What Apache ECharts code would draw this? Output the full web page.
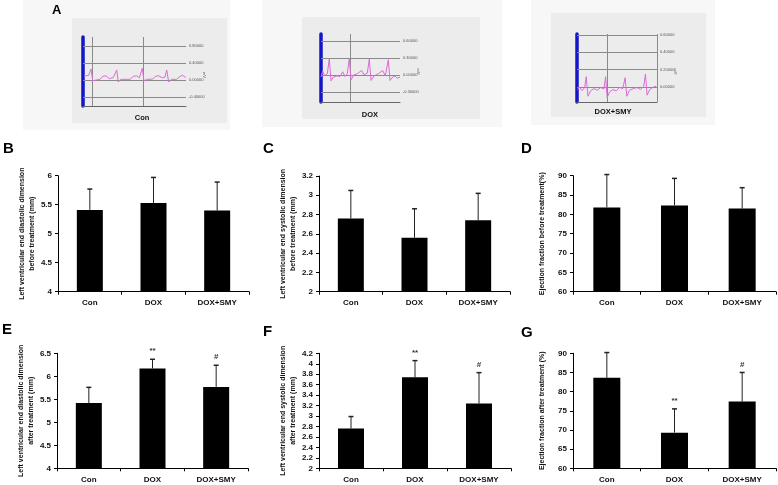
<!DOCTYPE html>
<html><head><meta charset="utf-8">
<script src="https://cdn.jsdelivr.net/npm/echarts@6/dist/echarts.min.js"></script>
<style>html,body{margin:0;padding:0;background:#fff}#c{width:778px;height:485px}</style>
</head><body><div id="c"></div>
<script>
// ---------- data ----------
const categories = ['Con', 'DOX', 'DOX+SMY'];
// B: LVEDd before treatment
const bMean = [5.41, 5.53, 5.40];
const bSD   = [0.36, 0.44, 0.49];
// C: LVESd before treatment
const cMean = [2.76, 2.56, 2.74];
const cSD   = [0.29, 0.30, 0.28];
// D: EF before treatment
const dMean = [81.8, 82.3, 81.5];
const dSD   = [8.5, 7.0, 5.4];
// E: LVEDd after treatment
const eMean = [5.42, 6.17, 5.77];
const eSD   = [0.34, 0.20, 0.47];
// F: LVESd after treatment
const fMean = [2.76, 3.74, 3.24];
const fSD   = [0.23, 0.32, 0.59];
// G: EF after treatment
const gMean = [83.6, 69.3, 77.4];
const gSD   = [6.6, 6.2, 7.6];
const noSig = ['', '', ''];
const afterSig = ['', '**', '#'];

// ECG traces (time, mV)
const ecgCon = [[1,0.09],[3,0.125],[5.7,0.11],[8,0.26],[9.7,-0.016],[11.3,0.016],[17,0.016],[19.7,0.086],[23,0.10],[26.3,0.03],[30.3,0.06],[32,0.09],[33.7,0.235],[35.3,-0.047],[37.7,0.016],[47,0.016],[50.3,0.086],[53.7,0.10],[56.3,0.05],[57.7,0.07],[59.3,0.275],[61,-0.024],[63.7,0.016],[69.7,0.02],[72.3,0.086],[75.7,0.10],[79.3,0.05],[82,0.07],[83.7,0.235],[85.7,-0.047],[88.3,0.016],[93.7,0.016],[97,0.086],[99.7,0.11],[102.7,0.06]];
const ecgDox = [[0,-0.04],[1.7,0.065],[3.7,-0.02],[6.3,0.018],[8.3,0.29],[10,-0.106],[12.3,-0.04],[16.3,-0.02],[19,-0.03],[21.7,0.053],[24,-0.03],[26.3,0.018],[28.3,0.29],[30,-0.088],[33,0],[36.3,0.018],[40.7,0.076],[43,0],[46.3,0.03],[48.3,0.277],[50,-0.1],[53,-0.02],[57.3,0.018],[61.7,0.076],[64.3,-0.02],[67.3,0.265],[69,-0.1],[71.7,-0.04],[74,-0.02],[76.3,-0.06],[79,-0.04]];
const ecgSmy = [[0.3,-0.027],[2.7,-0.004],[5,-0.04],[7.7,-0.004],[9.3,0.12],[11,-0.104],[13.7,-0.042],[17,-0.015],[20.3,-0.035],[23.7,-0.004],[27,-0.02],[28.7,0.12],[30.3,-0.12],[32.7,-0.054],[36,-0.027],[39.3,-0.042],[42.7,-0.004],[46,-0.015],[48.3,0.108],[50,-0.104],[52.7,-0.035],[57,-0.015],[60.3,-0.004],[63.7,-0.027],[67,0.01],[68.7,0.15],[70.3,-0.092],[73,-0.027],[76,-0.004],[78.3,0.01],[80.3,-0.004]];
const conLines = [0.8, 0.4, 0, -0.4];
const doxLines = [0.6, 0.3, 0, -0.3];
const smyLines = [0.6, 0.4, 0.2, 0];

// ---------- build ----------
const FONT = 'Liberation Sans, Arial, sans-serif';
const panels = [
  {letter:'B', grid:{left:58, top:175.7, width:191, height:116}, min:4, max:6, interval:0.5, mean:bMean, sd:bSD, sig:noSig,
   name:'Left ventricular end diastolic dimension\nbefore treatment (mm)', gap:21, lx:3, ly:141},
  {letter:'C', grid:{left:319, top:176, width:191, height:115.7}, min:2, max:3.2, interval:0.2, mean:cMean, sd:cSD, sig:noSig,
   name:'Left ventricular end systolic dimension\nbefore treatment (mm)', gap:21, lx:263, ly:141},
  {letter:'D', grid:{left:573, top:175.7, width:203, height:116}, min:60, max:90, interval:5, mean:dMean, sd:dSD, sig:noSig,
   name:'Ejection fraction before treatment(%)', gap:26, lx:521, ly:141},
  {letter:'E', grid:{left:57, top:353.3, width:191, height:115}, min:4, max:6.5, interval:0.5, mean:eMean, sd:eSD, sig:afterSig,
   name:'Left ventricular end diastolic dimension\nafter treatment (mm)', gap:21, lx:2, ly:322},
  {letter:'F', grid:{left:319, top:353.3, width:192, height:115}, min:2, max:4.2, interval:0.2, mean:fMean, sd:fSD, sig:afterSig,
   name:'Left ventricular end systolic dimension\nafter treatment (mm)', gap:21, lx:263, ly:324},
  {letter:'G', grid:{left:573, top:353.3, width:203, height:115}, min:60, max:90, interval:5, mean:gMean, sd:gSD, sig:afterSig,
   name:'Ejection fraction after treatment (%)', gap:26, lx:521, ly:325}
];

const grids = [], xAxes = [], yAxes = [], series = [], graphics = [];

// ECG panels
const ecgs = [
  {grid:{left:83, top:37, width:103, height:69}, xmax:103, ymin:-0.61, ymax:1.01, data:ecgCon, lines:conLines, vlines:[9,60], label:'Con', lxy:[142,118],
   outer:[23,0,207,130], inner:[72,18,155,105]},
  {grid:{left:321, top:34, width:79, height:68}, xmax:79, ymin:-0.48, ymax:0.72, data:ecgDox, lines:doxLines, vlines:[29.7], label:'DOX', lxy:[370,115],
   outer:[262,0,240,127], inner:[302,17,178,102]},
  {grid:{left:577, top:34, width:80, height:68}, xmax:80.3, ymin:-0.17, ymax:0.61, data:ecgSmy, lines:smyLines, vlines:[30,80.3], label:'DOX+SMY', lxy:[613,112],
   outer:[531,0,184,125], inner:[551,13,155,104]}
];

ecgs.forEach((e) => {
  graphics.push({type:'rect', shape:{x:e.outer[0], y:e.outer[1], width:e.outer[2], height:e.outer[3]}, style:{fill:'#f7f7f7'}, z:-20});
  graphics.push({type:'rect', shape:{x:e.inner[0], y:e.inner[1], width:e.inner[2], height:e.inner[3]}, style:{fill:'#ececec'}, z:-19});
  graphics.push({type:'text', x:e.lxy[0], y:e.lxy[1], style:{text:e.label, font:'bold 7.5px ' + FONT, fill:'#111', align:'center', verticalAlign:'middle'}});
  graphics.push({type:'text', x:e.grid.left + e.grid.width + 18, y:e.grid.top + e.grid.height * 0.55, rotation:-Math.PI/2,
    style:{text:'mV', font:'4px ' + FONT, fill:'#555', align:'center', verticalAlign:'middle'}});
  const gi = grids.length;
  grids.push(e.grid);
  xAxes.push({type:'value', gridIndex:gi, min:0, max:e.xmax, axisLabel:{show:false}, axisTick:{show:false}, splitLine:{show:false},
    axisLine:{show:true, onZero:false, lineStyle:{color:'#666', width:1}}});
  yAxes.push({type:'value', gridIndex:gi, min:e.ymin, max:e.ymax, axisLabel:{show:false}, axisTick:{show:false}, splitLine:{show:false},
    offset:1.5, axisLine:{show:true, lineStyle:{color:'#1414c8', width:3.5}}});
  const ml = e.lines.map(v => ({yAxis:v, label:{show:true, position:'end', distance:3, formatter:v.toFixed(5), fontSize:4, color:'#555', fontFamily:FONT}}))
    .concat(e.vlines.map(v => ({xAxis:v, label:{show:false}})));
  series.push({type:'line', xAxisIndex:gi, yAxisIndex:gi, data:e.data, showSymbol:false, symbol:'none', silent:true,
    lineStyle:{color:'#dd6ad8', width:1}, z:5,
    markLine:{silent:true, symbol:'none', animation:false, lineStyle:{color:'#8a8a8a', type:'solid', width:1}, data:ml}});
});

graphics.push({type:'text', x:52, y:4, style:{text:'A', font:'bold 13px ' + FONT, fill:'#000'}});

panels.forEach((p) => {
  const gi = grids.length;
  grids.push(p.grid);
  graphics.push({type:'text', x:p.lx, y:p.ly, style:{text:p.letter, font:'bold 15px ' + FONT, fill:'#000'}});
  xAxes.push({type:'category', gridIndex:gi, data:categories,
    axisLine:{lineStyle:{color:'#000', width:1}}, axisTick:{show:true, length:3, lineStyle:{color:'#000'}},
    axisLabel:{color:'#111', fontSize:8, fontWeight:'bold', fontFamily:FONT, margin:7}});
  yAxes.push({type:'value', gridIndex:gi, min:p.min, max:p.max, interval:p.interval,
    name:p.name, nameLocation:'middle', nameGap:p.gap, nameRotate:90,
    nameTextStyle:{color:'#111', fontSize:7, fontWeight:'bold', fontFamily:FONT, lineHeight:10},
    axisLine:{show:true, lineStyle:{color:'#000', width:1}}, axisTick:{show:true, length:3, lineStyle:{color:'#000'}},
    splitLine:{show:false},
    axisLabel:{color:'#111', fontSize:8, fontWeight:'bold', fontFamily:FONT, margin:6}});
  series.push({type:'bar', xAxisIndex:gi, yAxisIndex:gi, data:p.mean, barWidth:p.grid.width > 195 ? 27 : 26,
    itemStyle:{color:'#000'}, silent:true, z:2});
  const sig = p.sig;
  series.push({type:'custom', xAxisIndex:gi, yAxisIndex:gi, silent:true, z:3,
    data:p.mean.map((m, i) => [i, m, m + p.sd[i]]),
    renderItem:function(params, api){
      const base = api.coord([api.value(0), api.value(1)]);
      const top = api.coord([api.value(0), api.value(2)]);
      const ch = [
        {type:'line', shape:{x1:base[0], y1:base[1], x2:top[0], y2:top[1]}, style:{stroke:'#222', lineWidth:1}},
        {type:'line', shape:{x1:top[0]-2.5, y1:top[1], x2:top[0]+2.5, y2:top[1]}, style:{stroke:'#222', lineWidth:1.5}}
      ];
      const s = sig[params.dataIndex];
      if (s) ch.push({type:'text', x:top[0], y:top[1]-4, style:{text:s, font:'bold 8px ' + FONT, fill:'#333', align:'center', verticalAlign:'bottom'}});
      return {type:'group', children:ch};
    }});
});

const chart = echarts.init(document.getElementById('c'), null, {renderer:'canvas'});
chart.setOption({
  animation:false,
  backgroundColor:'#ffffff',
  textStyle:{fontFamily:FONT},
  grid:grids, xAxis:xAxes, yAxis:yAxes, series:series,
  graphic:graphics
});
</script>
</body></html>
